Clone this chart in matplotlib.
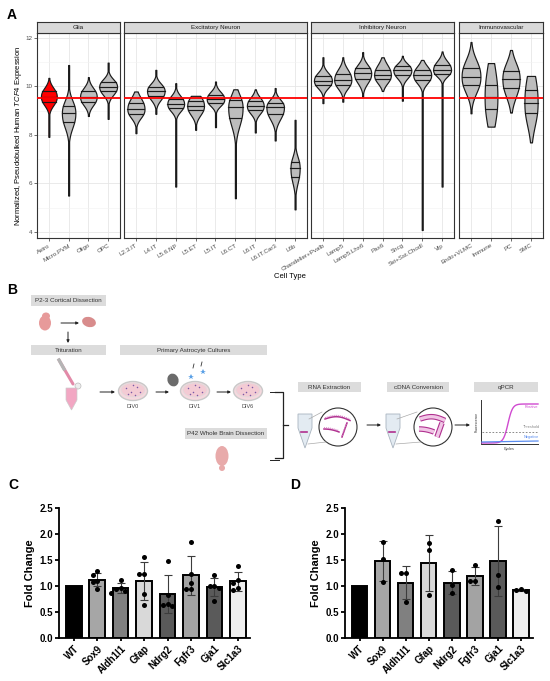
import numpy as np
import matplotlib.pyplot as plt
from matplotlib.patches import Rectangle, Ellipse, Circle, Polygon

plt.rcParams['font.family'] = ['Liberation Sans', 'DejaVu Sans']
plt.rcParams['mathtext.fontset'] = 'custom'
plt.rcParams['mathtext.rm'] = 'Liberation Sans'
plt.rcParams['mathtext.it'] = 'Liberation Sans:italic'

# ---------------- panel A data ----------------
groups = ['Glia', 'Excitatory Neuron', 'Inhibitory Neuron', 'Immunovascular']
glia_cells = ['Astro', 'Micro.PVM', 'Oligo', 'OPC']
exc_cells = ['L2.3.IT', 'L4.IT', 'L5.6.NP', 'L5.ET', 'L5.IT', 'L6.CT', 'L6.IT',
             'L6.IT.Car3', 'L6b']
inh_cells = ['Chandelier+Pvalb', 'Lamp5', 'Lamp5.Lhx6', 'Pax6', 'Sncg',
             'Sst+Sst.Chodl', 'Vip']
imm_cells = ['Endo+VLMC', 'Immune', 'PC', 'SMC']

v_lo = [7.92, 5.50, 8.78, 8.66,
        8.07, 8.87, 5.87, 8.21, 8.32, 5.39, 8.10, 7.77, 4.93,
        9.31, 9.37, 9.58, 9.81, 9.41, 4.08, 5.87,
        8.89, 8.34, 8.92, 7.69]
v_hi = [10.35, 10.88, 10.38, 10.98,
        9.79, 10.68, 10.13, 9.61, 10.20, 9.88, 9.88, 9.93, 8.62,
        11.20, 11.20, 11.41, 11.20, 11.26, 11.09, 11.44,
        11.83, 10.96, 11.50, 10.43]
v_q1 = [9.37, 8.55, 9.37, 9.79,
        8.85, 9.60, 9.10, 9.01, 9.31, 8.69, 9.01, 8.85, 6.28,
        10.06, 10.06, 10.30, 10.30, 10.47, 10.27, 10.52,
        10.06, 9.08, 9.93, 8.92]
v_med = [9.58, 8.90, 9.58, 9.99,
         9.06, 9.81, 9.28, 9.20, 9.47, 9.13, 9.20, 9.14, 6.63,
         10.24, 10.27, 10.54, 10.47, 10.66, 10.47, 10.68,
         10.40, 9.55, 10.31, 9.33]
v_q3 = [9.79, 9.20, 9.79, 10.17,
        9.33, 9.99, 9.47, 9.40, 9.65, 9.44, 9.40, 9.33, 6.90,
        10.43, 10.52, 10.75, 10.68, 10.82, 10.68, 10.89,
        10.75, 10.06, 10.65, 9.83]
v_dens = [0.40, 0.34, 0.42, 0.45,
          0.43, 0.44, 0.42, 0.42, 0.44, 0.36, 0.42, 0.44, 0.23,
          0.45, 0.43, 0.43, 0.42, 0.45, 0.45, 0.45,
          0.47, 0.32, 0.43, 0.33]
# how spread-out / flat each density body is (1 = plain bell)
v_flat = [1.1, 1.1, 1.1, 1.1,
          1.1, 1.1, 1.1, 1.3, 1.1, 1.1, 1.1, 1.1, 1.1,
          1.1, 1.1, 1.1, 1.3, 1.1, 1.1, 1.1,
          1.25, 1.6, 1.25, 1.5]
astro_ref = 9.52

# ---------------- panel C / D data (qPCR fold change) ----------------
genes = ['WT', 'Sox9', 'Aldh1l1', 'Gfap', 'Ndrg2', 'Fgfr3', 'Gja1', 'Slc1a3']
wt_fold = 1.0
c_points = [[1.28, 1.22, 1.10, 1.07, 0.95],
            [1.12, 0.97, 0.95, 0.90, 0.87],
            [1.55, 1.23, 1.23, 0.85, 0.63],
            [1.48, 0.82, 0.65, 0.64, 0.62],
            [1.84, 1.23, 0.95, 0.95, 1.05],
            [1.22, 1.00, 1.00, 0.97, 0.72],
            [1.38, 1.12, 1.05, 0.97, 0.93]]
d_points = [[1.84, 1.51, 1.08],
            [1.25, 1.25, 0.70],
            [1.82, 1.70, 0.83],
            [1.31, 1.02, 0.87],
            [1.40, 1.10, 1.10],
            [2.25, 1.22, 0.98],
            [0.94, 0.92, 0.90]]

W, H = 550, 681
fig = plt.figure(figsize=(5.5, 6.81), dpi=100)


def rect(l, t, r, b):
    return [l / W, 1 - b / H, (r - l) / W, (b - t) / H]


def letter(x, y, s):
    fig.text(x / W, 1 - y / H, s, fontsize=10, fontweight='bold', va='center')


# ================= panel A =================
letter(7, 15, 'A')
panel_x = [(37, 120), (124, 307), (311, 454), (459, 543)]
cell_lists = [glia_cells, exc_cells, inh_cells, imm_cells]
k = 0
for gi, (name, cl, (l, r)) in enumerate(zip(groups, cell_lists, panel_x)):
    ax = fig.add_axes(rect(l, 33, r, 238))
    n = len(cl)
    pos = np.arange(1, n + 1)
    ax.set_xlim(0.4, n + 0.6)
    ax.set_ylim(3.75, 12.2)
    ax.set_yticks([4, 6, 8, 10, 12])
    ax.set_yticks([5, 7, 9, 11], minor=True)
    ax.set_xticks(pos)
    ax.grid(True, which='major', color='#e6e6e6', lw=0.6)
    ax.grid(True, which='minor', axis='y', color='#f2f2f2', lw=0.4)
    ax.set_axisbelow(True)
    for sp in ax.spines.values():
        sp.set_color('#333333')
        sp.set_linewidth(0.8)
    ax.tick_params(which='both', length=2, width=0.5, color='#333333',
                   labelsize=4.5, labelcolor='#4d4d4d', pad=1.5)
    ax.tick_params(which='minor', length=0)
    ax.set_xticklabels(cl, rotation=30, ha='right', rotation_mode='anchor')
    if gi > 0:
        ax.set_yticklabels([])
        ax.tick_params(axis='y', length=0)
    for j, x in enumerate(pos):
        lo, q1, md, q3, hi, w, f = (v_lo[k], v_q1[k], v_med[k], v_q3[k],
                                    v_hi[k], v_dens[k], v_flat[k])
        y = np.linspace(lo, hi, 300)
        s = f * np.where(y >= md, q3 - md, md - q1) / 0.674
        h = w * np.exp(-0.5 * np.abs((y - md) / s) ** 2.3)
        h = np.maximum(h, 0.025)
        col = 'red' if cl[j] == 'Astro' else '#bdbdbd'
        ax.fill_betweenx(y, x - h, x + h, facecolor=col, edgecolor='#1a1a1a',
                         lw=0.85, zorder=2)
        for q in (q1, md, q3):
            hq = np.interp(q, y, h)
            ax.plot([x - hq, x + hq], [q, q], color='#1a1a1a', lw=0.85,
                    zorder=2)
        k += 1
    ax.axhline(astro_ref, color='red', lw=1.3, zorder=3)
    # facet strip
    st = fig.add_axes(rect(l, 22, r, 33))
    st.set_facecolor('#d9d9d9')
    st.set_xticks([])
    st.set_yticks([])
    for sp in st.spines.values():
        sp.set_color('#333333')
        sp.set_linewidth(0.8)
    st.text(0.5, 0.5, name, ha='center', va='center', fontsize=4.5,
            color='#1a1a1a', transform=st.transAxes)

fig.text(19 / W, 1 - 136 / H,
         r'Normalized, Pseudobulked Human $\mathit{TCF4}$ Expression',
         rotation=90, ha='center', va='center', fontsize=5.5)
fig.text(290 / W, 1 - 276 / H, 'Cell Type', ha='center', va='center',
         fontsize=5.5)

# ================= panel B (schematic) =================
letter(7, 290, 'B')
axB = fig.add_axes(rect(0, 280, 550, 475))
axB.set_xlim(0, 550)
axB.set_ylim(475, 280)
axB.axis('off')

box_col = '#dcdcdc'
boxes = [('P2-3 Cortical Dissection', 31, 295, 106, 306),
         ('Trituration', 31, 345, 106, 355),
         ('Primary Astrocyte Cultures', 120, 345, 267, 355),
         ('P42 Whole Brain Dissection', 185, 428, 267, 439),
         ('RNA Extraction', 298, 382, 361, 392),
         ('cDNA Conversion', 387, 382, 449, 392),
         ('qPCR', 474, 382, 538, 392)]
for txt, l, t, r, b in boxes:
    axB.add_patch(Rectangle((l, t), r - l, b - t, facecolor=box_col,
                            edgecolor='none'))
    axB.text((l + r) / 2, (t + b) / 2 + 0.3, txt, ha='center', va='center',
             fontsize=4.5, color='#333333')

arrows = [(61, 323, 79, 323), (68, 332, 68, 343), (100, 392, 115, 392),
          (156, 392, 169, 392), (217, 392, 231, 392), (367, 425, 381, 425),
          (455, 425, 470, 425)]
for x0, y0, x1, y1 in arrows:
    axB.annotate('', xy=(x1, y1), xytext=(x0, y0),
                 arrowprops=dict(arrowstyle='-|>', lw=0.7, color='#222222',
                                 mutation_scale=4, shrinkA=0, shrinkB=0))
axB.plot([270, 279], [392, 392], color='#222222', lw=0.7)
axB.plot([270, 279], [460, 460], color='#222222', lw=0.7)
axB.plot([275, 283, 283, 275], [392, 392, 458, 458], color='#222222', lw=0.9)
axB.plot([283, 288], [425, 425], color='#222222', lw=0.9)

# pup, dissected cortex
axB.add_patch(Ellipse((45, 323), 12, 15, facecolor='#e79a9a', edgecolor='none'))
axB.add_patch(Ellipse((46, 316), 8, 7, facecolor='#e79a9a', edgecolor='none'))
axB.add_patch(Ellipse((89, 322), 14, 10, angle=15, facecolor='#d88c8c',
                      edgecolor='none'))
# pipette and tube
axB.plot([59, 73], [360, 384], color='#e28aa8', lw=2.2, solid_capstyle='round')
axB.plot([59, 64], [360, 369], color='#b5b5b5', lw=2.4)
axB.add_patch(Circle((78, 386), 3, facecolor='#eeeeee', edgecolor='#bbbbbb',
                     lw=0.5))
axB.add_patch(Polygon([[66, 388], [77, 388], [77, 400], [71.5, 410], [66, 400]],
                      facecolor='#f2a7c3', edgecolor='#cccccc', lw=0.5))

# dishes
for cx, lab in [(133, 'DIV0'), (195, 'DIV1'), (248, 'DIV6')]:
    axB.add_patch(Ellipse((cx, 391), 29, 19, facecolor='#f6d8de',
                          edgecolor='#c9c9c9', lw=1.0))
    axB.add_patch(Ellipse((cx, 390), 24, 14, facecolor='#f3cbd4',
                          edgecolor='#dddddd', lw=0.5))
    for dx, dy in [(-7, -2), (-2, 2), (4, -3), (7, 2), (0, -5), (-5, 4), (2, 5)]:
        axB.plot(cx + dx, 390 + dy, 'o', ms=1.1, color='#7a5aa6', mew=0)
    axB.text(cx, 407, lab, ha='center', va='center', fontsize=4,
             color='#444444')
axB.add_patch(Ellipse((173, 380), 11, 13, angle=-20, facecolor='#6b6b6b',
                      edgecolor='none'))
for bx, by in [(191, 377), (203, 372)]:
    axB.plot(bx, by, '*', ms=4, color='#5aa0e6', mew=0)
axB.plot([193, 194], [368, 364], color='#333333', lw=0.6)
axB.plot([201, 202], [366, 362], color='#333333', lw=0.6)

# adult brain
axB.add_patch(Ellipse((222, 456), 13, 20, facecolor='#e8aaaa', edgecolor='none'))
axB.add_patch(Ellipse((222, 468), 6, 6, facecolor='#e8aaaa', edgecolor='none'))

# tubes and zoom circles
for tx, cx, thick in [(305, 338, False), (393, 433, True)]:
    axB.add_patch(Polygon([[tx - 7, 414], [tx + 7, 414], [tx + 7, 428],
                           [tx, 448], [tx - 7, 428]], closed=True,
                          facecolor='#e3ebf2', edgecolor='#a9b4bf', lw=0.6))
    axB.plot([tx - 4, tx + 2], [432, 432], color='#b0308f', lw=1.2)
    axB.plot([tx + 4, cx - 16], [419, 412], color='#aaaaaa', lw=0.5)
    axB.plot([tx + 3, cx - 12], [444, 442], color='#aaaaaa', lw=0.5)
    axB.add_patch(Circle((cx, 427), 19, facecolor='white', edgecolor='#333333',
                         lw=0.8))
    t = np.linspace(0, 1, 40)
    strands = [(cx - 13 + 25 * t, 419 - 3 * np.sin(np.pi * t) + 1.5 * t),
               (cx - 14 + 15 * t, 429 + 3 * t ** 2),
               (cx + 4 + 5 * t, 437 - 14 * t)]
    for sx, sy in strands:
        if thick:
            axB.plot(sx, sy, color='#b0308f', lw=4.0, solid_capstyle='butt')
            axB.plot(sx, sy, color='#f1c6e6', lw=2.4, solid_capstyle='butt')
        else:
            axB.plot(sx, sy, color='#b0308f', lw=1.1)
            axB.plot(sx, sy - 1.2, color='#d27ac0', lw=1.0, ls=(0, (0.6, 0.8)))

# qPCR mini chart
axB.plot([481, 481, 538], [400, 444, 444], color='#333333', lw=0.7)
qx = np.linspace(482, 538, 100)
axB.plot(qx, 443 - 39 / (1 + np.exp(-(qx - 508) / 2.3)), color='#d04ad0', lw=1.0)
axB.plot([482, 538], [432, 432], color='#777777', lw=0.6, ls=(0, (2, 2)))
axB.plot([482, 538], [442, 441], color='#5b8def', lw=0.9)
axB.text(531, 408, 'Positive', fontsize=2.8, color='#d04ad0', ha='center')
axB.text(531, 428, 'Threshold', fontsize=2.8, color='#888888', ha='center')
axB.text(531, 438, 'Negative', fontsize=2.8, color='#5b8def', ha='center')
axB.text(477, 422, 'Fluorescence', fontsize=2.4, rotation=90, ha='center',
         va='center', color='#333333')
axB.text(509, 449, 'Cycles', fontsize=2.6, ha='center', va='center',
         color='#333333')

# ================= panels C / D =================
bar_cols = ['black', '#a6a6a6', '#808080', '#d9d9d9', '#5a5a5a', '#a3a3a3',
            '#5a5a5a', '#eeeeee']


def spread(vals, step=0.2, tol=0.1):
    placed = []
    for v in vals:
        used = [o for pv, o in placed if abs(pv - v) < tol]
        for o in (0.0, -step, step, -2 * step, 2 * step):
            if o not in used:
                placed.append((v, o))
                break
    return [o for _, o in placed]


def fold_panel(ax, pts):
    means = [wt_fold] + [np.mean(p) for p in pts]
    sds = [0.0] + [np.std(p, ddof=1) for p in pts]
    x = np.arange(len(genes))
    ax.bar(x, means, width=0.67, color=bar_cols, edgecolor='black', lw=1.4,
           zorder=2)
    ax.errorbar(x[1:], means[1:], yerr=sds[1:], fmt='none', ecolor='#3c3c3c',
                elinewidth=0.8, capsize=3, capthick=0.8, zorder=3)
    for i, p in enumerate(pts):
        offs = spread(p)
        ax.scatter(i + 1 + np.array(offs), p, s=13, color='black', zorder=4,
                   linewidths=0, clip_on=False)
    ax.set_xlim(-0.63, 7.52)
    ax.set_ylim(0, 2.5)
    ax.set_yticks([0, 0.5, 1.0, 1.5, 2.0, 2.5])
    ax.set_yticklabels(['0.0', '0.5', '1.0', '1.5', '2.0', '2.5'])
    ax.set_xticks(x)
    ax.set_xticklabels(genes, rotation=45, ha='right', rotation_mode='anchor')
    for lab in ax.get_xticklabels() + ax.get_yticklabels():
        lab.set_fontweight('bold')
    ax.tick_params(labelsize=7, width=1.3, length=3, pad=1.5)
    ax.tick_params(axis='x', length=2.5)
    ax.spines['top'].set_visible(False)
    ax.spines['right'].set_visible(False)
    ax.spines['left'].set_linewidth(1.3)
    ax.spines['bottom'].set_linewidth(1.3)
    ax.set_ylabel('Fold Change', fontsize=8, fontweight='bold', labelpad=3)


letter(8, 485, 'C')
axC = fig.add_axes(rect(59, 508, 250, 638))
fold_panel(axC, c_points)

letter(290, 485, 'D')
axD = fig.add_axes(rect(345, 508, 533, 638))
fold_panel(axD, d_points)

fig.savefig('out.png', dpi=100, facecolor='white')
